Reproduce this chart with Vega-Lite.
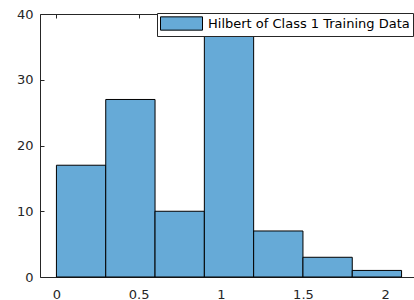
{
  "$schema": "https://vega.github.io/schema/vega-lite/v6.json",
  "autosize": {"type": "none"},
  "padding": {"left": 40, "top": 14, "right": 0, "bottom": 23},
  "width": 378,
  "height": 263,
  "config": {
    "view": {"stroke": "#262626", "strokeWidth": 1},
    "font": "DejaVu Sans",
    "axis": {
      "grid": false,
      "domain": false,
      "tickColor": "#262626",
      "tickSize": -4,
      "labelColor": "#262626",
      "labelFont": "DejaVu Sans",
      "labelFontSize": 13,
      "title": null
    }
  },
  "data": {
    "values": [
      {"bin_start": 0.0, "bin_end": 0.3, "count": 17, "series": "Hilbert of Class 1 Training Data"},
      {"bin_start": 0.3, "bin_end": 0.6, "count": 27, "series": "Hilbert of Class 1 Training Data"},
      {"bin_start": 0.6, "bin_end": 0.9, "count": 10, "series": "Hilbert of Class 1 Training Data"},
      {"bin_start": 0.9, "bin_end": 1.2, "count": 40, "series": "Hilbert of Class 1 Training Data"},
      {"bin_start": 1.2, "bin_end": 1.5, "count": 7, "series": "Hilbert of Class 1 Training Data"},
      {"bin_start": 1.5, "bin_end": 1.8, "count": 3, "series": "Hilbert of Class 1 Training Data"},
      {"bin_start": 1.8, "bin_end": 2.1, "count": 1, "series": "Hilbert of Class 1 Training Data"}
    ]
  },
  "layer": [
    {
      "mark": {"type": "bar", "stroke": "#000000", "strokeWidth": 1, "opacity": 1},
      "encoding": {
        "x": {
          "field": "bin_start", "type": "quantitative",
          "scale": {"domain": [-0.1, 2.2], "nice": false, "zero": false},
          "axis": {"values": [0, 0.5, 1, 1.5, 2], "labelPadding": 15, "labelExpr": "datum.value == 0 ? '0' : format(datum.value, '~g')"}
        },
        "x2": {"field": "bin_end"},
        "y": {
          "field": "count", "type": "quantitative",
          "scale": {"domain": [0, 40], "nice": false},
          "axis": {"values": [0, 10, 20, 30, 40], "labelPadding": 11}
        },
        "y2": {"datum": 0},
        "fill": {
          "field": "series", "type": "nominal",
          "scale": {"range": ["#66aad7"]},
          "legend": {
            "title": null,
            "orient": "none",
            "legendX": 117,
            "legendY": -1,
            "fillColor": "#ffffff",
            "strokeColor": "#262626",
            "padding": 3,
            "symbolType": "M-3,-0.95H3V0.95H-3Z",
            "symbolSize": 196,
            "symbolStrokeColor": "#000000",
            "symbolStrokeWidth": 1,
            "symbolOpacity": 1,
            "symbolOffset": 14,
            "labelOffset": 19,
            "labelFont": "DejaVu Sans",
            "labelFontSize": 13,
            "labelColor": "#000000",
            "labelLimit": 400
          }
        }
      }
    },
    {
      "mark": {"type": "rule", "opacity": 0},
      "encoding": {
        "x": {
          "field": "bin_start", "type": "quantitative",
          "axis": {"orient": "top", "values": [0, 0.5, 1, 1.5, 2], "labels": false}
        }
      }
    }
  ],
  "resolve": {"axis": {"x": "independent"}}
}
